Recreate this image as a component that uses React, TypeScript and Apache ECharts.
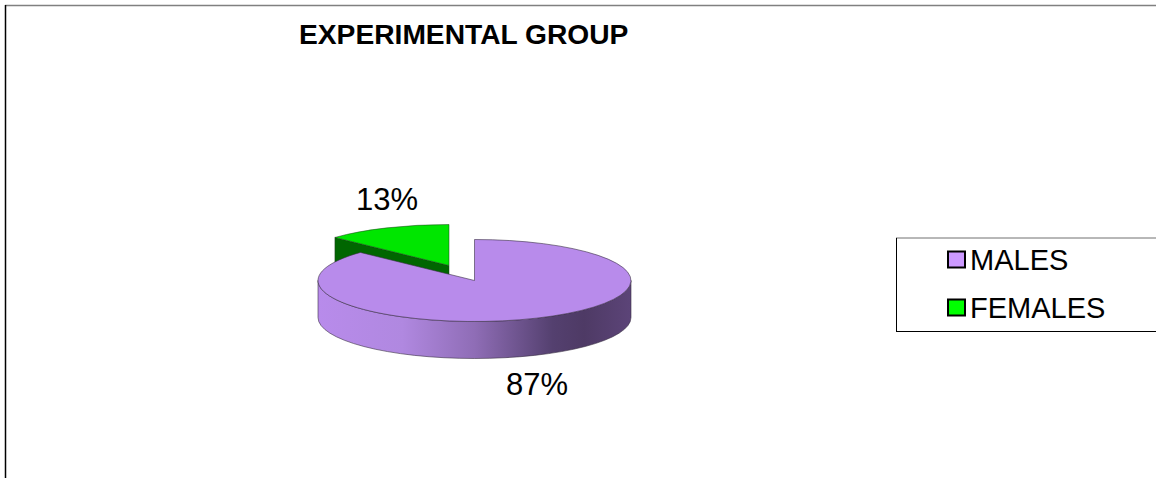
import React, { useEffect, useRef } from "react";
import * as echarts from "echarts";

const chartTitle = "EXPERIMENTAL GROUP";
const categories = ["MALES", "FEMALES"];
const shares = [87, 13];
const legendColors = ["#CC99FF", "#00FF00"];
const topColors = ["#B88BEB", "#00E600"];
const wallColor = "#006600";

const FONT = '"Liberation Sans", Arial, sans-serif';
const RX = 156.5;
const RY = 41;
const DEPTH = 37;
const CENTER: [number, number] = [474.5, 280.5];
const LIFTED_CENTER: [number, number] = [449, 265.5];

const total = shares.reduce((a, b) => a + b, 0);

// Project a clockwise angle (degrees from 12 o'clock) onto the tilted disc.
const rim = (c: [number, number], deg: number): [number, number] => {
  const t = (deg * Math.PI) / 180;
  return [c[0] + RX * Math.sin(t), c[1] - RY * Math.cos(t)];
};

const malesItem = (_: unknown, api: any) => {
  const sweep = (api.value(0) / total) * 360;
  const [cx, cy] = CENTER;
  const [ex, ey] = rim(CENTER, sweep);
  const large = sweep > 180 ? 1 : 0;
  const top = `M${cx} ${cy}L${cx} ${cy - RY}A${RX} ${RY} 0 ${large} 1 ${ex} ${ey}Z`;
  const wall =
    `M${cx + RX} ${cy}A${RX} ${RY} 0 0 1 ${cx - RX} ${cy}` +
    `L${cx - RX} ${cy + DEPTH}A${RX} ${RY} 0 0 0 ${cx + RX} ${cy + DEPTH}Z`;
  const shade = new echarts.graphic.LinearGradient(
    cx - RX, 0, cx + RX, 0,
    [
      { offset: 0, color: "#B88BEB" },
      { offset: 0.27, color: "#B088E0" },
      { offset: 0.5, color: "#8F6DB6" },
      { offset: 0.75, color: "#54406F" },
      { offset: 0.85, color: "#4E3A65" },
      { offset: 1, color: "#5C4478" },
    ],
    true
  );
  const edge = { stroke: "#3A3044", lineWidth: 0.6 };
  return {
    type: "group",
    children: [
      { type: "path", shape: { pathData: wall }, style: { fill: shade, ...edge } },
      { type: "path", shape: { pathData: top }, style: { fill: topColors[0], ...edge } },
      {
        type: "text",
        x: 537,
        y: 384,
        style: {
          text: `${Math.round((api.value(0) / total) * 100)}%`,
          font: `31px ${FONT}`,
          fill: "#000",
          align: "center",
          verticalAlign: "middle",
        },
      },
    ],
  };
};

const femalesItem = (_: unknown, api: any) => {
  const sweep = (api.value(0) / total) * 360;
  const [cx, cy] = LIFTED_CENTER;
  const [sx, sy] = rim(LIFTED_CENTER, 360 - sweep);
  const top = `M${cx} ${cy}L${sx} ${sy}A${RX} ${RY} 0 0 1 ${cx} ${cy - RY}Z`;
  const wall = `M${cx} ${cy}L${sx} ${sy}L${sx} ${sy + DEPTH}L${cx} ${cy + DEPTH}Z`;
  const edge = { stroke: "#1F3A1F", lineWidth: 0.5 };
  return {
    type: "group",
    children: [
      { type: "path", shape: { pathData: wall }, style: { fill: wallColor, ...edge } },
      { type: "path", shape: { pathData: top }, style: { fill: topColors[1], ...edge } },
      {
        type: "text",
        x: 387,
        y: 199,
        style: {
          text: `${Math.round((api.value(0) / total) * 100)}%`,
          font: `31px ${FONT}`,
          fill: "#000",
          align: "center",
          verticalAlign: "middle",
        },
      },
    ],
  };
};

export default function App() {
  const ref = useRef<HTMLDivElement>(null);

  useEffect(() => {
    const chart = echarts.init(ref.current!, null, { renderer: "svg" });
    chart.setOption({
      animation: false,
      backgroundColor: "#fff",
      title: {
        text: chartTitle,
        left: 299,
        top: 20,
        padding: 0,
        textStyle: { fontFamily: FONT, fontSize: 28.2, fontWeight: "bold", color: "#000" },
      },
      legend: {
        orient: "vertical",
        left: 947,
        top: 243,
        padding: 0,
        itemGap: 15,
        itemWidth: 17,
        itemHeight: 16,
        selectedMode: false,
        icon: "rect",
        textStyle: { fontFamily: FONT, fontSize: 29, color: "#000", padding: [0, 0, 0, 0], lineHeight: 33 },
        data: categories.map((name, i) => ({
          name,
          icon: "rect",
          itemStyle: { color: legendColors[i], borderColor: "#000", borderWidth: 2 },
        })),
      },
      graphic: [
        { type: "line", silent: true, shape: { x1: 5, y1: 5.5, x2: 1156, y2: 5.5 }, style: { stroke: "#808080", lineWidth: 1.5 } },
        { type: "line", silent: true, shape: { x1: 5.5, y1: 5, x2: 5.5, y2: 478 }, style: { stroke: "#000", lineWidth: 1.5 } },
        { type: "line", silent: true, shape: { x1: 896, y1: 238, x2: 1156, y2: 238 }, style: { stroke: "#707070", lineWidth: 1 } },
        { type: "line", silent: true, shape: { x1: 896.5, y1: 238, x2: 896.5, y2: 331.5 }, style: { stroke: "#000", lineWidth: 1 } },
        { type: "line", silent: true, shape: { x1: 896, y1: 331.5, x2: 1156, y2: 331.5 }, style: { stroke: "#000", lineWidth: 1 } },
      ],
      series: [
        {
          type: "custom",
          name: categories[1],
          coordinateSystem: "none",
          silent: true,
          z: 1,
          itemStyle: { color: legendColors[1] },
          renderItem: femalesItem,
          data: [[shares[1]]],
        },
        {
          type: "custom",
          name: categories[0],
          coordinateSystem: "none",
          silent: true,
          z: 2,
          itemStyle: { color: legendColors[0] },
          renderItem: malesItem,
          data: [[shares[0]]],
        },
      ],
    });
    return () => chart.dispose();
  }, []);

  return <div ref={ref} style={{ position: "absolute", left: 0, top: 0, width: 1156, height: 478 }} />;
}
